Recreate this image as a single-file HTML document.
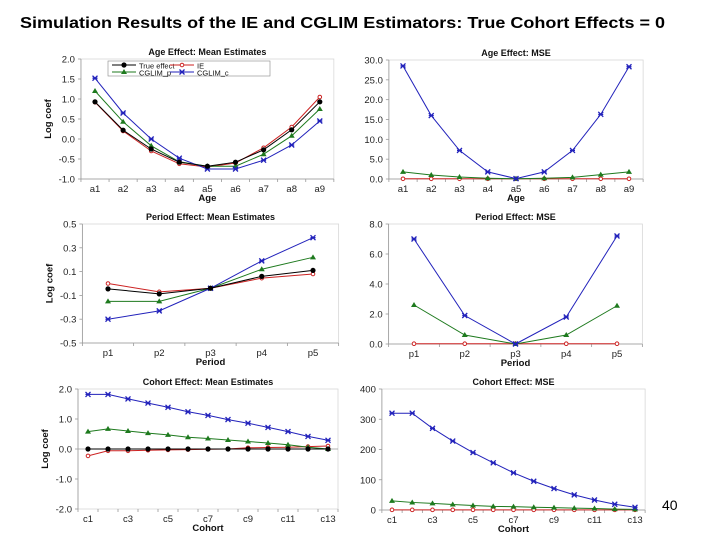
<!DOCTYPE html>
<html><head><meta charset="utf-8"><style>
body{margin:0;background:#fff;}
svg{display:block;font-family:"Liberation Sans",Arial,sans-serif;}
</style></head><body>
<svg id="s" width="720" height="540" viewBox="0 0 720 540">
<text x="20" y="28" font-size="16" font-weight="bold" textLength="645" lengthAdjust="spacingAndGlyphs" fill="#000">Simulation Results of the IE and CGLIM Estimators: True Cohort Effects = 0</text>
<text x="662" y="510" font-size="14" fill="#000">40</text>
</svg>
<script>
const ageCats=["a1","a2","a3","a4","a5","a6","a7","a8","a9"];
const perCats=["p1","p2","p3","p4","p5"];
const cohCats=["c1","c2","c3","c4","c5","c6","c7","c8","c9","c10","c11","c12","c13"];
const cohLabels=["c1","","c3","","c5","","c7","","c9","","c11","","c13"];
const ageMeanTrue=[0.93,0.22,-0.25,-0.58,-0.68,-0.58,-0.27,0.23,0.93];
const ageMeanIE=[0.92,0.20,-0.30,-0.62,-0.70,-0.60,-0.22,0.30,1.05];
const ageMeanP=[1.20,0.43,-0.17,-0.57,-0.68,-0.68,-0.38,0.08,0.75];
const ageMeanC=[1.52,0.65,0.00,-0.48,-0.75,-0.75,-0.53,-0.15,0.45];
const ageMseIE=[0.05,0.05,0.05,0.05,0.05,0.05,0.05,0.05,0.05];
const ageMseP=[1.8,1.0,0.5,0.2,0.05,0.2,0.4,1.1,1.8];
const ageMseC=[28.5,16.0,7.2,1.8,0.1,1.8,7.2,16.3,28.3];
const perMeanTrue=[-0.045,-0.087,-0.04,0.06,0.11];
const perMeanIE=[0.0,-0.07,-0.04,0.045,0.08];
const perMeanP=[-0.15,-0.15,-0.04,0.12,0.22];
const perMeanC=[-0.30,-0.23,-0.04,0.19,0.385];
const perMseIE=[0.02,0.02,0.02,0.02,0.02];
const perMseP=[2.6,0.6,0.0,0.6,2.55];
const perMseC=[7.0,1.9,0.0,1.8,7.2];
const cohMeanTrue=[0,0,0,0,0,0,0,0,0,0,0,0,0];
const cohMeanIE=[-0.23,-0.06,-0.06,-0.04,-0.03,-0.02,-0.01,0.0,0.04,0.05,0.06,0.08,0.1];
const cohMeanP=[0.58,0.67,0.60,0.53,0.47,0.39,0.35,0.30,0.25,0.20,0.14,0.06,0.0];
const cohMeanC=[1.82,1.82,1.67,1.53,1.39,1.24,1.12,0.98,0.86,0.72,0.58,0.42,0.29];
const cohMseIE=[0.5,0.5,0.5,0.5,0.5,0.5,0.5,0.5,0.5,0.5,0.5,0.5,0.5];
const cohMseP=[30,25,22,18,15,12,11,9,8,6,5,3,2];
const cohMseC=[320,320,270,228,190,156,123,95,71,50,33,19,9];
const ageMeanTicks=["2.0","1.5","1.0","0.5","0.0","-0.5","-1.0"];
const ageMseTicks=["30.0","25.0","20.0","15.0","10.0","5.0","0.0"];
const perMeanTicks=["0.5","0.3","0.1","-0.1","-0.3","-0.5"];
const perMseTicks=["8.0","6.0","4.0","2.0","0.0"];
const cohMeanTicks=["2.0","1.0","0.0","-1.0","-2.0"];
const cohMseTicks=["400","300","200","100","0"];

const NS="http://www.w3.org/2000/svg";
const svg=document.getElementById('s');
function mk(tag,attrs,parent){const e=document.createElementNS(NS,tag);for(const k in attrs)e.setAttribute(k,attrs[k]);(parent||svg).appendChild(e);return e;}
const COL={t:"#000",ie:"#cc2222",p:"#1e7a1e",c:"#2222bb"};

function marker(g,kind,x,y,col){
  let m;
  if(kind==="t"){m=mk('circle',{cx:x,cy:y,r:2.6,fill:col},g);}
  else if(kind==="ie"){m=mk('circle',{cx:x,cy:y,r:1.8,fill:"#fff",stroke:col,'stroke-width':1},g);}
  else if(kind==="p"){m=mk('path',{d:`M${x} ${y-3}L${x+3} ${y+2}L${x-3} ${y+2}Z`,fill:col},g);}
  else {m=mk('path',{d:`M${x-2.5} ${y-2.5}L${x+2.5} ${y+2.5}M${x+2.5} ${y-2.5}L${x-2.5} ${y+2.5}M${x-2.5} ${y}L${x+2.5} ${y}`,stroke:col,'stroke-width':1.3},g);}
  
  
}

function chart(o){
  const g=mk('g',{});
  
  
  const n=o.cats.length, sp=o.sp, left=o.x0-sp/2, right=left+n*sp;
  const ys=v=>o.yTop+(o.yMax-v)/(o.yMax-o.yMin)*(o.yBot-o.yTop);
  const xs=i=>o.x0+i*sp;
  const frame=mk('rect',{x:left,y:o.yTop,width:right-left,height:o.yBot-o.yTop,fill:"none",stroke:"#d8d8d8",'stroke-width':0.8},g);
  
  
  mk('line',{x1:left,y1:o.yTop,x2:left,y2:o.yBot,stroke:"#999",'stroke-width':0.8},g);
  const ax=o.axisAt!==undefined?ys(o.axisAt):o.yBot;
  mk('line',{x1:left,y1:ax,x2:right,y2:ax,stroke:"#999",'stroke-width':0.8},g);
  o.ticks.forEach((t,i)=>{
    const v=o.yMax-i*(o.yMax-o.yMin)/(o.ticks.length-1);
    const y=ys(v);
    mk('line',{x1:left-3,y1:y,x2:left,y2:y,stroke:"#999",'stroke-width':0.8},g);
    const tx=mk('text',{x:left-6,y:y+3.5,'font-size':9.5,'text-anchor':'end',fill:"#222"},g);
    tx.textContent=t;
    
    
  });
  for(let i=0;i<=n;i++){mk('line',{x1:left+i*sp,y1:o.yBot,x2:left+i*sp,y2:o.yBot+3,stroke:"#999",'stroke-width':0.8},g);}
  o.labels.forEach((l,i)=>{
    const tx=mk('text',{x:xs(i),y:o.yBot+13,'font-size':9.5,'text-anchor':'middle',fill:"#222"},g);
    tx.textContent=l;
    
    
  });
  const tt=mk('text',{x:(left+right)/2,y:o.yTop-4,'font-size':9,'font-weight':'bold','text-anchor':'middle',fill:"#111"},g);
  tt.textContent=o.title;
  
  
  const xt=mk('text',{x:(left+right)/2,y:o.yBot+22,'font-size':9.5,'font-weight':'bold','text-anchor':'middle',fill:"#111"},g);
  xt.textContent=o.xTitle;
  
  
  if(o.yTitle){
    const cy=(o.yTop+o.yBot)/2;
    const yt=mk('text',{x:left-30,y:cy,'font-size':9.5,'font-weight':'bold','text-anchor':'middle',fill:"#111",transform:`rotate(-90 ${left-30} ${cy})`},g);
    yt.textContent=o.yTitle;
    
    
  }
  o.series.forEach(s=>{
    const pts=s.vals.map((v,i)=>xs(i)+","+ys(v)).join(" ");
    const pl=mk('polyline',{points:pts,fill:"none",stroke:COL[s.k],'stroke-width':1},g);
    
    
    s.vals.forEach((v,i)=>marker(g,s.k,xs(i),ys(v),COL[s.k]));
  });
  return g;
}

chart({name:"age-mean-chart",title:"Age Effect: Mean Estimates",xTitle:"Age",yTitle:"Log coef",cats:ageCats,labels:ageCats,x0:95,sp:28.1,yTop:59,yBot:179,yMax:2,yMin:-1,ticks:ageMeanTicks,
 series:[{k:"ie",vals:ageMeanIE},{k:"p",vals:ageMeanP},{k:"c",vals:ageMeanC},{k:"t",vals:ageMeanTrue}]});
chart({name:"age-mse-chart",title:"Age Effect: MSE",xTitle:"Age",cats:ageCats,labels:ageCats,x0:403,sp:28.25,yTop:60,yBot:179,yMax:30,yMin:0,ticks:ageMseTicks,
 series:[{k:"ie",vals:ageMseIE},{k:"p",vals:ageMseP},{k:"c",vals:ageMseC}]});
chart({name:"period-mean-chart",title:"Period Effect: Mean Estimates",xTitle:"Period",yTitle:"Log coef",cats:perCats,labels:perCats,x0:108,sp:51.25,yTop:224,yBot:343,yMax:0.5,yMin:-0.5,ticks:perMeanTicks,
 series:[{k:"ie",vals:perMeanIE},{k:"p",vals:perMeanP},{k:"c",vals:perMeanC},{k:"t",vals:perMeanTrue}]});
chart({name:"period-mse-chart",title:"Period Effect: MSE",xTitle:"Period",cats:perCats,labels:perCats,x0:414,sp:50.75,yTop:224,yBot:344,yMax:8,yMin:0,ticks:perMseTicks,
 series:[{k:"ie",vals:perMseIE},{k:"p",vals:perMseP},{k:"c",vals:perMseC}]});
chart({name:"cohort-mean-chart",title:"Cohort Effect: Mean Estimates",xTitle:"Cohort",yTitle:"Log coef",cats:cohCats,labels:cohLabels,x0:88,sp:20,yTop:389,yBot:509,yMax:2,yMin:-2,ticks:cohMeanTicks,axisAt:0,
 series:[{k:"ie",vals:cohMeanIE},{k:"p",vals:cohMeanP},{k:"c",vals:cohMeanC},{k:"t",vals:cohMeanTrue}]});
chart({name:"cohort-mse-chart",title:"Cohort Effect: MSE",xTitle:"Cohort",cats:cohCats,labels:cohLabels,x0:392,sp:20.25,yTop:389,yBot:510,yMax:400,yMin:0,ticks:cohMseTicks,
 series:[{k:"ie",vals:cohMseIE},{k:"p",vals:cohMseP},{k:"c",vals:cohMseC}]});

const lg=mk('g',{});


mk('rect',{x:108,y:61,width:162,height:15,fill:"#fff",stroke:"#888",'stroke-width':0.6},lg);
const entries=[["t","True effect",112,68],["ie","IE",170,68],["p","CGLIM_p",112,75],["c","CGLIM_c",170,75]];
entries.forEach(e=>{
  const eg=mk('g',{},lg);
  
  
  mk('line',{x1:e[2],y1:e[3]-3,x2:e[2]+24,y2:e[3]-3,stroke:COL[e[0]],'stroke-width':1},eg);
  marker(eg,e[0],e[2]+12,e[3]-3,COL[e[0]]);
  const t=mk('text',{x:e[2]+27,y:e[3]+0.5,'font-size':7.5,fill:"#111"},eg);
  t.textContent=e[1];
});
</script>
</body></html>
